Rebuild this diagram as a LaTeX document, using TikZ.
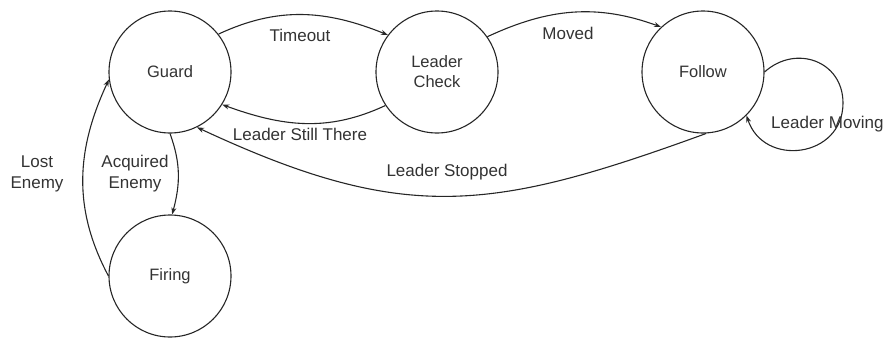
\documentclass[tikz,border=0pt]{standalone}
\usepackage{fontspec}
\setmainfont{Liberation Sans}
\usetikzlibrary{arrows.meta}
\begin{document}
\begin{tikzpicture}[x=1pt,y=-1pt,
  state/.style={circle,draw=black!85,line width=1.1pt,minimum size=122pt,inner sep=0pt,align=center,font=\fontsize{16.5}{20}\selectfont,text=black!80},
  trans/.style={draw=black!85,line width=1.1pt,-{Stealth[length=7pt,width=5pt]}},
  lbl/.style={font=\fontsize{17}{21}\selectfont,text=black!80,align=center,inner sep=0pt}]
\useasboundingbox (0,0) rectangle (889,340);
\node[state] (guard) at (170,72) {Guard};
\node[state] (check) at (437,72) {Leader\\Check};
\node[state] (follow) at (703,72) {Follow};
\node[state] (firing) at (170,276) {Firing};
\coordinate (loopR) at (843,103);

\draw[trans] (guard.38) to[out=25,in=158] (check.143);
\draw[trans] (check.213) to[out=-155,in=-20] (guard.-32);
\draw[trans] (check.35) to[out=25,in=160] (follow.133);
\draw[trans] (follow.-87) to[out=-160,in=-25,looseness=1.15] (guard.-64);
\draw[trans] (guard.-90) to[out=-70,in=75] (firing.88);
\draw[trans] (firing.180) to[out=118,in=-115] (guard.187);
\draw[trans] (follow.0) .. controls +(-42:42) and +(-90:42) .. (loopR)
  .. controls +(90:55) and +(72:55) .. (follow.-45);

\node[lbl] (lt) at (300,35) {Timeout};
\node[lbl] (ls) at (300,134) {Leader Still There};
\node[lbl] (lm) at (568,33) {Moved};
\node[lbl] (lst) at (447,172) {Leader Stopped};
\node[lbl] (la) at (135,174) {Acquired\\Enemy};
\node[lbl] (ll) at (37,174) {Lost\\Enemy};
\node[lbl,anchor=west] (lmv) at (771,124) {Leader Moving};
\end{tikzpicture}
\end{document}
